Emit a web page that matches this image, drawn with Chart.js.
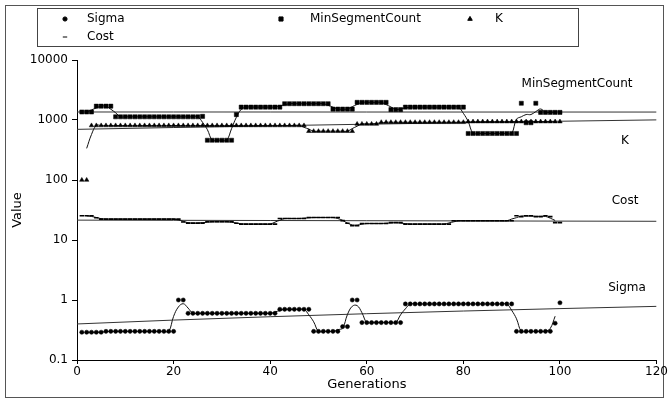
<!DOCTYPE html>
<html>
<head>
<meta charset="utf-8">
<script src="https://cdn.jsdelivr.net/npm/chart.js@4.4.1/dist/chart.umd.min.js"></script>
<style>
html, body { margin: 0; padding: 0; background: #fff; }
#wrap { width: 669px; height: 403px; }
</style>
</head>
<body>
<div id="wrap"><canvas id="chart" width="669" height="403"></canvas></div>
<script>
// Données (générations 1..100)
const generations = [
  1, 2, 3, 4, 5, 6, 7, 8, 9, 10,
  11, 12, 13, 14, 15, 16, 17, 18, 19, 20,
  21, 22, 23, 24, 25, 26, 27, 28, 29, 30,
  31, 32, 33, 34, 35, 36, 37, 38, 39, 40,
  41, 42, 43, 44, 45, 46, 47, 48, 49, 50,
  51, 52, 53, 54, 55, 56, 57, 58, 59, 60,
  61, 62, 63, 64, 65, 66, 67, 68, 69, 70,
  71, 72, 73, 74, 75, 76, 77, 78, 79, 80,
  81, 82, 83, 84, 85, 86, 87, 88, 89, 90,
  91, 92, 93, 94, 95, 96, 97, 98, 99, 100
];

const sigma = [
  0.29, 0.29, 0.29, 0.29, 0.29, 0.3, 0.3, 0.3, 0.3, 0.3,
  0.3, 0.3, 0.3, 0.3, 0.3, 0.3, 0.3, 0.3, 0.3, 0.3,
  1.0, 1.0, 0.6, 0.6, 0.6, 0.6, 0.6, 0.6, 0.6, 0.6,
  0.6, 0.6, 0.6, 0.6, 0.6, 0.6, 0.6, 0.6, 0.6, 0.6,
  0.6, 0.7, 0.7, 0.7, 0.7, 0.7, 0.7, 0.7, 0.3, 0.3,
  0.3, 0.3, 0.3, 0.3, 0.36, 0.36, 1.0, 1.0, 0.42, 0.42,
  0.42, 0.42, 0.42, 0.42, 0.42, 0.42, 0.42, 0.86, 0.86, 0.86,
  0.86, 0.86, 0.86, 0.86, 0.86, 0.86, 0.86, 0.86, 0.86, 0.86,
  0.86, 0.86, 0.86, 0.86, 0.86, 0.86, 0.86, 0.86, 0.86, 0.86,
  0.3, 0.3, 0.3, 0.3, 0.3, 0.3, 0.3, 0.3, 0.41, 0.9
];

const minSegmentCount = [
  1360, 1360, 1360, 1700, 1700, 1700, 1700, 1130, 1130, 1130,
  1130, 1130, 1130, 1130, 1130, 1130, 1130, 1130, 1130, 1130,
  1130, 1130, 1130, 1130, 1130, 1150, 460, 460, 460, 460,
  460, 460, 1230, 1640, 1640, 1640, 1640, 1640, 1640, 1640,
  1640, 1640, 1870, 1870, 1870, 1870, 1870, 1870, 1870, 1870,
  1870, 1870, 1520, 1520, 1520, 1520, 1520, 1970, 1970, 1970,
  1970, 1970, 1970, 1970, 1490, 1490, 1490, 1640, 1640, 1640,
  1640, 1640, 1640, 1640, 1640, 1640, 1640, 1640, 1640, 1640,
  596, 596, 596, 596, 596, 596, 596, 596, 596, 596,
  596, 1900, 900, 900, 1900, 1340, 1340, 1340, 1340, 1340
];

const kValues = [
  100, 100, 810, 810, 810, 810, 810, 810, 810, 810,
  810, 810, 810, 810, 810, 810, 810, 810, 810, 810,
  810, 810, 810, 810, 810, 810, 810, 810, 810, 810,
  810, 810, 810, 810, 810, 810, 810, 810, 810, 810,
  810, 810, 810, 810, 810, 810, 810, 650, 650, 650,
  650, 650, 650, 650, 650, 650, 650, 858, 858, 858,
  858, 858, 916, 916, 916, 916, 916, 916, 916, 916,
  916, 916, 916, 916, 916, 916, 916, 916, 916, 916,
  940, 940, 940, 940, 940, 940, 940, 940, 940, 940,
  940, 940, 940, 940, 940, 940, 940, 940, 940, 940
];

const cost = [
  25.3, 25.3, 25.3, 23.5, 22.3, 22.3, 22.3, 22.3, 22.3, 22.3,
  22.3, 22.3, 22.3, 22.3, 22.3, 22.3, 22.3, 22.3, 22.3, 22.3,
  22.3, 20.0, 19.1, 19.1, 19.1, 19.1, 20.1, 20.1, 20.1, 20.1,
  20.1, 20.1, 19.0, 18.4, 18.4, 18.4, 18.4, 18.4, 18.4, 18.4,
  18.4, 22.8, 22.8, 22.8, 22.8, 22.8, 22.8, 23.7, 23.7, 23.7,
  23.7, 23.7, 23.7, 23.7, 21.0, 19.0, 17.3, 17.3, 18.8, 18.8,
  18.8, 18.8, 18.8, 18.8, 19.5, 19.5, 19.5, 18.4, 18.4, 18.4,
  18.4, 18.4, 18.4, 18.4, 18.4, 18.4, 18.4, 20.9, 20.9, 20.9,
  20.9, 20.9, 20.9, 20.9, 20.9, 20.9, 20.9, 20.9, 20.9, 20.9,
  25.3, 24.5, 25.3, 25.3, 24.5, 24.5, 25.3, 24.5, 19.5, 19.5
];

const xTicks = [0, 20, 40, 60, 80, 100, 120];
const yTicks = [0.1, 1, 10, 100, 1000, 10000];

const seriesNames = ['Sigma', 'MinSegmentCount', 'K', 'Cost'];

// Points (x, y)
function toPoints(ys) {
    return generations.map((g, i) => ({ x: g, y: ys[i] }));
}

// Moyenne mobile centrée sur 3 points
function movingAverage(ys) {
    const out = [];
    for (let i = 1; i < ys.length - 1; i++) {
        out.push({ x: generations[i], y: (ys[i - 1] + ys[i] + ys[i + 1]) / 3 });
    }
    return out;
}

// Tendance linéaire (moindres carrés), évaluée aux graduations de l'axe x
function linearTrend(ys) {
    const n = ys.length;
    let sx = 0, sy = 0, sxx = 0, sxy = 0;
    for (let i = 0; i < n; i++) {
        const x = generations[i], y = ys[i];
        sx += x; sy += y; sxx += x * x; sxy += x * y;
    }
    const b = (n * sxy - sx * sy) / (n * sxx - sx * sx);
    const a = (sy - b * sx) / n;
    return xTicks.map(x => ({ x: x, y: a + b * x }));
}

const allSeries = [sigma, minSegmentCount, kValues, cost];
const markers = [
    { style: 'circle', radius: 2.1 },
    { style: 'rect', radius: 2.9 },
    { style: 'triangle', radius: 2.6 },
    { style: 'line', radius: 2.2 }
];

const datasets = [];
allSeries.forEach((ys, i) => {
    datasets.push({
        label: seriesNames[i],
        data: toPoints(ys),
        showLine: false,
        pointStyle: markers[i].style,
        pointRadius: markers[i].radius,
        pointBorderWidth: markers[i].style === 'line' ? 1.6 : 0.5,
        borderColor: '#000',
        backgroundColor: '#000'
    });
});
allSeries.forEach((ys, i) => {
    datasets.push({
        label: seriesNames[i] + ' moyenne',
        data: movingAverage(ys),
        showLine: true,
        pointRadius: 0,
        borderWidth: 1,
        borderColor: '#111',
        tension: 0.4
    });
    datasets.push({
        label: seriesNames[i] + ' tendance',
        data: linearTrend(ys),
        showLine: true,
        pointRadius: 0,
        borderWidth: 1,
        borderColor: '#333'
    });
});

// Cadre, légende et étiquettes
const decorPlugin = {
    id: 'decor',
    beforeDraw(chart) {
        const ctx = chart.ctx;
        ctx.save();
        ctx.fillStyle = '#fff';
        ctx.fillRect(0, 0, chart.width, chart.height);
        ctx.strokeStyle = '#555';
        ctx.lineWidth = 1;
        ctx.strokeRect(5.5, 5.5, 658, 392);
        ctx.restore();
    },
    afterDraw(chart) {
        const ctx = chart.ctx;
        ctx.save();
        // Boîte de légende
        ctx.strokeStyle = '#444';
        ctx.lineWidth = 1;
        ctx.strokeRect(37.5, 8.5, 541, 38);
        ctx.font = '12px "DejaVu Sans"';
        ctx.textBaseline = 'middle';
        ctx.textAlign = 'left';
        const items = [
            { mx: 65, tx: 87, y: 19 },
            { mx: 281, tx: 310, y: 19 },
            { mx: 470, tx: 495, y: 19 },
            { mx: 65, tx: 87, y: 37 }
        ];
        items.forEach((it, i) => {
            ctx.fillStyle = '#000';
            ctx.strokeStyle = '#000';
            Chart.helpers.drawPoint(ctx, {
                pointStyle: markers[i].style,
                radius: markers[i].radius,
                borderWidth: markers[i].style === 'line' ? 1.6 : 0.5,
                rotation: 0
            }, it.mx, it.y);
            ctx.fillText(seriesNames[i], it.tx, it.y);
        });
        // Étiquettes des séries
        ctx.fillStyle = '#000';
        ctx.font = '12px "DejaVu Sans"';
        ctx.textAlign = 'center';
        ctx.fillText('MinSegmentCount', 577, 84);
        ctx.fillText('K', 625, 141);
        ctx.fillText('Cost', 625, 201);
        ctx.fillText('Sigma', 627, 288);
        ctx.restore();
    }
};

const tickFont = { family: 'DejaVu Sans', size: 12 };
const titleFont = { family: 'DejaVu Sans', size: 13 };

const myChart = new Chart(document.getElementById('chart').getContext('2d'), {
    type: 'scatter',
    data: { datasets: datasets },
    options: {
        responsive: false,
        animation: false,
        events: [],
        layout: { padding: { top: 60, right: 12, left: 0, bottom: 0 } },
        plugins: {
            legend: { display: false },
            tooltip: { enabled: false }
        },
        scales: {
            x: {
                type: 'linear',
                min: xTicks[0],
                max: xTicks[xTicks.length - 1],
                afterBuildTicks: s => { s.ticks = xTicks.map(v => ({ value: v })); },
                afterFit: s => { s.height = 43; },
                ticks: { color: '#000', font: tickFont, padding: 1, maxRotation: 0 },
                grid: { drawOnChartArea: false, tickLength: 4, color: '#000' },
                border: { color: '#000' },
                title: { display: true, text: 'Generations', color: '#000', font: titleFont, padding: { top: 0, bottom: 11 } }
            },
            y: {
                type: 'logarithmic',
                min: yTicks[0],
                max: yTicks[yTicks.length - 1],
                afterBuildTicks: s => { s.ticks = yTicks.map(v => ({ value: v })); },
                afterFit: s => { s.width = 77; },
                ticks: { color: '#000', font: tickFont, padding: 4, callback: v => String(v) },
                grid: { drawOnChartArea: false, tickLength: 5, color: '#000' },
                border: { color: '#000' },
                title: { display: true, text: 'Value', color: '#000', font: titleFont, padding: { top: 10, bottom: 0 } }
            }
        }
    },
    plugins: [decorPlugin]
});
</script>
</body>
</html>
